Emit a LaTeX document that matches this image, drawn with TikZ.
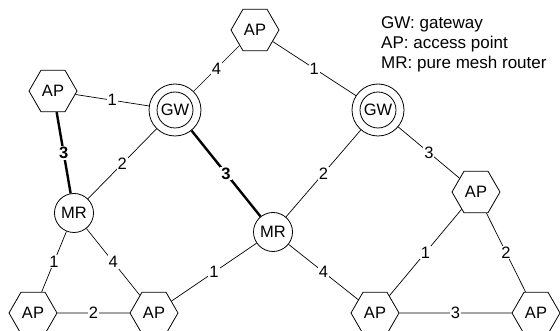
\documentclass[tikz,border=0pt]{standalone}
\usepackage{fontspec}
\setmainfont{Liberation Sans}
\usetikzlibrary{shapes.geometric}
\begin{document}
\begin{tikzpicture}[x=1pt,y=-1pt,
  every node/.style={font=\fontsize{16.5}{19.5}\selectfont},
  apnode/.style={draw, regular polygon, regular polygon sides=6, minimum size=48pt, inner sep=0pt, line width=0.8pt},
  mrnode/.style={draw, circle, minimum size=39pt, inner sep=0pt, line width=0.8pt},
  gwnode/.style={draw, circle, minimum size=52pt, inner sep=0pt, line width=0.8pt,
    path picture={\draw[line width=0.8pt] (path picture bounding box.center) circle (18pt);}},
  link/.style={line width=0.7pt},
  strong/.style={line width=2.4pt},
  lbl/.style={midway, fill=white, inner sep=1pt},
  blbl/.style={midway, fill=white, inner sep=1pt, font=\fontsize{16.5}{19.5}\selectfont\bfseries}]
\useasboundingbox (0,0) rectangle (560,331);
% nodes
\node[apnode] (aptop) at (255,30) {AP};
\node[apnode] (apleft) at (53,91) {AP};
\node[gwnode] (gw1) at (175,110) {GW};
\node[gwnode] (gw2) at (378,110) {GW};
\node[mrnode] (mr1) at (74,213) {MR};
\node[mrnode] (mr2) at (273,232) {MR};
\node[apnode] (apright) at (476,192) {AP};
\node[apnode] (apbl1) at (33,313) {AP};
\node[apnode] (apbl2) at (154,313) {AP};
\node[apnode] (apbr1) at (375,313) {AP};
\node[apnode] (apbr2) at (536,313) {AP};
% edges
\draw[link] (apleft) -- node[lbl] {1} (gw1);
\draw[link] (gw1) -- node[lbl] {4} (aptop);
\draw[link] (aptop) -- node[lbl] {1} (gw2);
\draw[link] (gw1) -- node[lbl] {2} (mr1);
\draw[strong] (apleft) -- node[blbl] {3} (mr1);
\draw[strong] (gw1) -- node[blbl] {3} (mr2);
\draw[link] (gw2) -- node[lbl] {2} (mr2);
\draw[link] (gw2) -- node[lbl] {3} (apright);
\draw[link] (mr1) -- node[lbl] {1} (apbl1);
\draw[link] (mr1) -- node[lbl] {4} (apbl2);
\draw[link] (apbl1) -- node[lbl] {2} (apbl2);
\draw[link] (mr2) -- node[lbl] {1} (apbl2);
\draw[link] (mr2) -- node[lbl] {4} (apbr1);
\draw[link] (apright) -- node[lbl] {1} (apbr1);
\draw[link] (apright) -- node[lbl] {2} (apbr2);
\draw[link] (apbr1) -- node[lbl] {3} (apbr2);
% legend
\node[anchor=north west, align=left, inner sep=0pt, font=\fontsize{17}{20}\selectfont] (legend) at (381,16) {GW: gateway\\AP: access point\\MR: pure mesh router};
\end{tikzpicture}
\end{document}
